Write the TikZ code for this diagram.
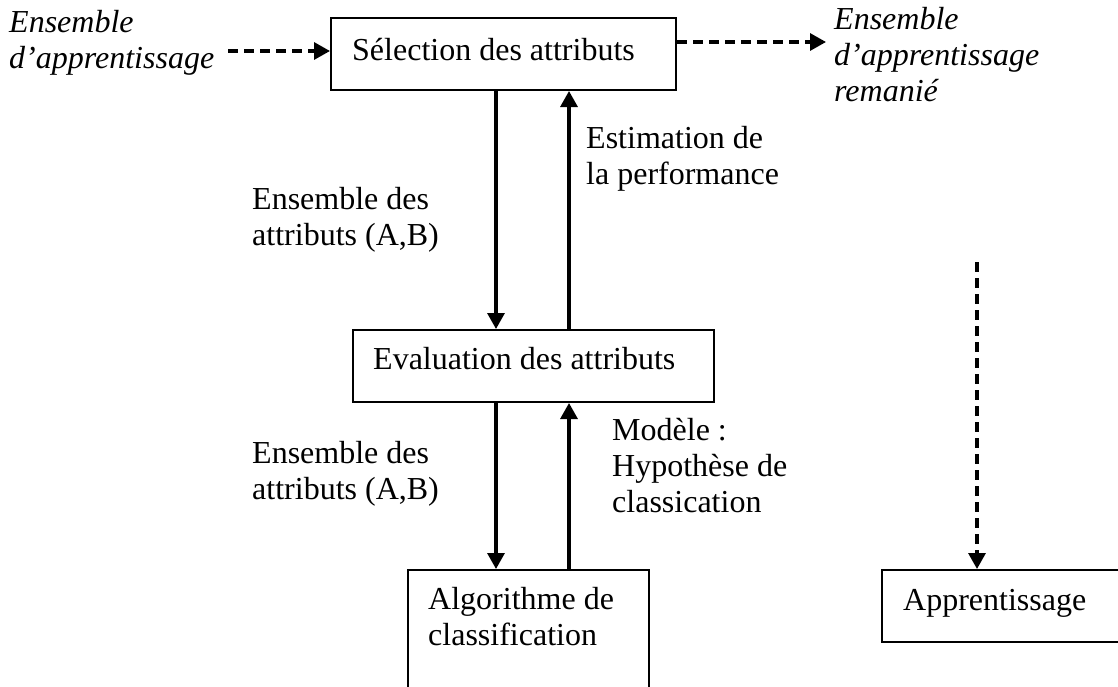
\documentclass[tikz,border=0pt]{standalone}
\usepackage{fontspec}
\setmainfont{Liberation Serif}
\usetikzlibrary{arrows.meta}

\begin{document}
\begin{tikzpicture}[x=1pt,y=-1pt,
  every node/.style={font=\fontsize{32}{36}\selectfont, inner sep=0pt},
  box/.style={draw, line width=2pt, rectangle, anchor=north west},
  % multi-line texts are placed by the baseline of their last line
  txt/.style={anchor=base west, align=left},
  itxt/.style={txt, font=\fontsize{32}{36}\selectfont\itshape},
  arr/.style={line width=3.2pt, -{Triangle[length=16pt,width=17pt]}},
  darr/.style={arr, dash pattern=on 10pt off 6pt}]

\useasboundingbox (0,0) rectangle (1118,686);
\clip (0,0) rectangle (1118,686);

% boxes
\node[box, minimum width=345pt, minimum height=72pt] (sel) at (330,17) {};
\node[box, minimum width=361pt, minimum height=72pt] (eval) at (352,329) {};
\node[box, minimum width=241pt, minimum height=140pt] (algo) at (407,569) {};
\node[box, minimum width=260pt, minimum height=72pt] (app) at (881,569) {};

% box texts
\node[txt] (selT) at (352,60) {Sélection des attributs};
\node[txt] (evalT) at (373,369) {Evaluation des attributs};
\node[txt] (algoT) at (428,645) {Algorithme de\\classification};
\node[txt] (appT) at (903,610) {Apprentissage};

% free texts
\node[itxt] (inT) at (9,68) {Ensemble\\d’apprentissage};
\node[itxt] (outT) at (834,101) {Ensemble\\d’apprentissage\\remanié};
\node[txt] (l1) at (252,245) {Ensemble des\\attributs (A,B)};
\node[txt] (l2) at (586,184) {Estimation de\\la performance};
\node[txt] (l3) at (252,499) {Ensemble des\\attributs (A,B)};
\node[txt] (l4) at (612,512) {Modèle :\\Hypothèse de\\classication};

% connector ends and columns
\coordinate (in) at (228,51);
\coordinate (out) at (826,42);
\coordinate (vtop) at (977,262);
\coordinate (cdown) at (496,0);
\coordinate (cup) at (569,0);

% connectors
\draw[darr] (in) -- (sel.west |- in);
\draw[darr] (sel.east |- out) -- (out);
\draw[darr] (vtop) -- (app.north -| vtop);
\draw[arr] (sel.south -| cdown) -- (eval.north -| cdown);
\draw[arr] (eval.north -| cup) -- (sel.south -| cup);
\draw[arr] (eval.south -| cdown) -- (algo.north -| cdown);
\draw[arr] (algo.north -| cup) -- (eval.south -| cup);
\end{tikzpicture}
\end{document}
